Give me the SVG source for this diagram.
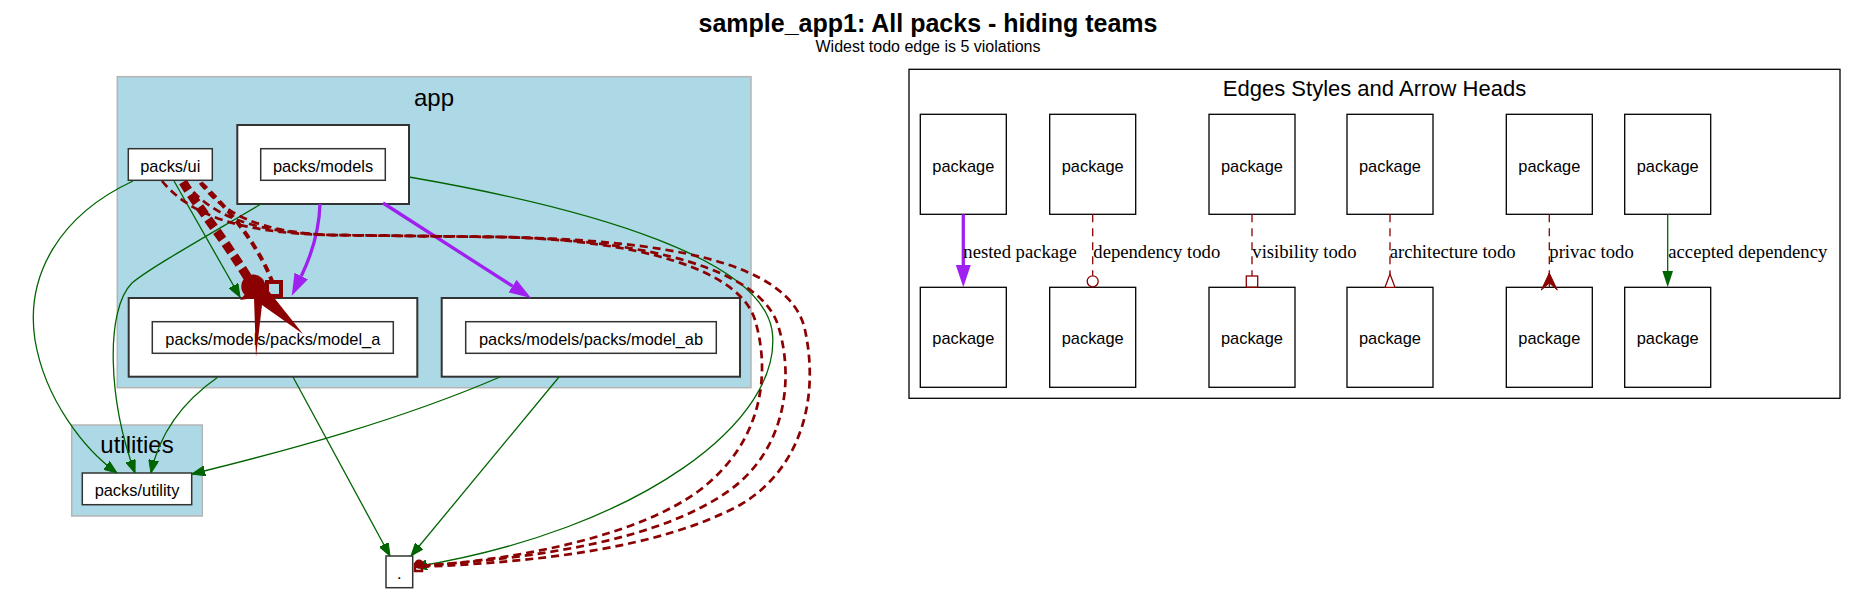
<svg xmlns="http://www.w3.org/2000/svg" width="1856" height="593" viewBox="0 0 1856 593">
<style>
text{font-family:"Liberation Sans",Arial,sans-serif;fill:#000}
.t{text-anchor:middle}
.nd{fill:#fff;stroke:#333;stroke-width:1.5}
.ob{fill:#fff;stroke:#333;stroke-width:2}
.cl{fill:#ADD8E6;stroke:#B5B5B5;stroke-width:1.5}
.lg{fill:#fff;stroke:#000;stroke-width:1.3}
.g{fill:none;stroke:#006400;stroke-width:1.3}
.p{fill:none;stroke:#A020F0;stroke-width:3.3}
.r{fill:none;stroke:#8B0000;stroke-width:2.7;stroke-dasharray:8,5}
.rl{fill:none;stroke:#8B0000;stroke-width:1.3;stroke-dasharray:8,6}
.lab{font-family:"Liberation Serif","Times New Roman",serif;font-size:18.67px}
.pk{font-size:16.4px}
</style>
<defs>
<marker id="ag" markerUnits="userSpaceOnUse" viewBox="0 0 13 10" markerWidth="13" markerHeight="10" refX="13" refY="5" orient="auto"><path d="M0,0 L13,5 L0,10 Z" fill="#006400" stroke="#006400" stroke-width="1"/></marker>
<marker id="ap" markerUnits="userSpaceOnUse" viewBox="0 0 22 15" markerWidth="22" markerHeight="15" refX="0" refY="7.5" orient="auto"><path d="M0,0 L22,7.5 L0,15 Z" fill="#A020F0"/></marker>
</defs>
<rect width="1856" height="593" fill="#fff"/>
<g id="title">
<text class="t" x="928" y="32" font-size="25" font-weight="bold">sample_app1: All packs - hiding teams</text>
<text class="t" x="928" y="52" font-size="16">Widest todo edge is 5 violations</text>
</g>
<g id="cluster_app">
<rect class="cl" x="117.3" y="76.7" width="633.7" height="311"/>
<text class="t" x="434" y="105.7" font-size="24">app</text>
</g>
<g id="cluster_utilities">
<rect class="cl" x="71.7" y="425" width="130.6" height="91"/>
<text class="t" x="137" y="453.3" font-size="24">utilities</text>
</g>
<g id="packs_ui">
<rect class="nd" x="128.3" y="148.7" width="84" height="31.6"/>
<text class="t" x="170.3" y="171.5" font-size="16.4">packs/ui</text>
</g>
<g id="packs_models">
<rect class="ob" x="237.3" y="125" width="171.7" height="79"/>
<rect class="nd" x="260.7" y="148.7" width="124.6" height="31.6"/>
<text class="t" x="323" y="171.5" font-size="16.4">packs/models</text>
</g>
<g id="model_a">
<rect class="ob" x="128.7" y="298" width="288.6" height="78.7"/>
<rect class="nd" x="152.3" y="321.7" width="241" height="31.6"/>
<text class="t" x="272.8" y="344.5" font-size="16.4">packs/models/packs/model_a</text>
</g>
<g id="model_ab">
<rect class="ob" x="441.7" y="298" width="298.3" height="78.7"/>
<rect class="nd" x="465.7" y="321.7" width="250.6" height="31.6"/>
<text class="t" x="591" y="344.5" font-size="16.4">packs/models/packs/model_ab</text>
</g>
<g id="packs_utility">
<rect class="nd" x="82.3" y="473" width="109.4" height="31.7"/>
<text class="t" x="137" y="495.8" font-size="16.4">packs/utility</text>
</g>
<g id="root">
<rect class="nd" x="386" y="556" width="26.7" height="31.7"/>
<text class="t" x="399.3" y="578.5" font-size="16.4">.</text>
</g>
<g id="edges">
<path class="g" d="M133,181 C60,215 25,275 35,340 C45,400 85,450 117,473" marker-end="url(#ag)"/>
<path class="g" d="M261,204 C200,240 150,268 132,283 C105,310 108,400 135,473" marker-end="url(#ag)"/>
<path class="g" d="M174,181 L240,297" marker-end="url(#ag)"/>
<path class="g" d="M218,377 C185,400 160,430 151,473" marker-end="url(#ag)"/>
<path class="g" d="M500,377 C400,420 290,450 192,474" marker-end="url(#ag)"/>
<path class="g" d="M293,377 L390,556" marker-end="url(#ag)"/>
<path class="g" d="M559,377 L411,556" marker-end="url(#ag)"/>
<path class="g" d="M409,177 C600,210 760,260 772,330 C785,420 640,530 414,567" marker-end="url(#ag)"/>
<path class="p" d="M320,204 C319,235 310,258 301.3,276" marker-end="url(#ap)"/>
<path class="p" d="M383,203 L512.5,286.1" marker-end="url(#ap)"/>
<path class="r" d="M162,181 C190,215 240,233 330,235 L500,237 C640,240 740,270 755,320 C770,370 765,440 700,490 C640,535 520,560 418,566"/>
<path class="r" d="M185,182 C210,215 250,232 330,235 L500,237 C650,240 760,270 778,325 C795,380 785,450 730,490 C660,540 540,558 418,566"/>
<path class="r" d="M200,183 C225,215 260,232 330,235 L500,237 C660,240 790,260 805,330 C820,400 800,470 740,505 C660,548 540,562 418,567"/>
<path fill="none" stroke="#8B0000" stroke-width="9" stroke-dasharray="10,5" d="M183,182 C200,210 225,240 248,278"/>
<path fill="none" stroke="#8B0000" stroke-width="4" stroke-dasharray="8,5" d="M201,183 C230,210 258,245 272,281"/>
<circle cx="253.3" cy="286.5" r="12" fill="#8B0000"/>
<rect x="267" y="282" width="14" height="14" fill="none" stroke="#8B0000" stroke-width="4"/>
<path d="M256,282 L240,300 L254,298 L256,357 L262,305 L303,334 L268,290 Z" fill="#8B0000"/>
<circle cx="419" cy="564" r="4.5" fill="#8B0000"/>
<rect x="415" y="564" width="7" height="7" fill="none" stroke="#8B0000" stroke-width="2.5"/>
</g>
<g id="legend">
<rect x="909" y="69.3" width="931" height="329" fill="#fff" stroke="#000" stroke-width="1.3"/>
<text class="t" x="1374.5" y="96" font-size="22">Edges Styles and Arrow Heads</text>
</g>
<g id="legend_nodes">
<g id="lt1"><rect class="lg" x="920.3" y="114.3" width="86" height="100"/><text class="t pk" x="963.3" y="172.3">package</text></g>
<g id="lt2"><rect class="lg" x="1049.7" y="114.3" width="86" height="100"/><text class="t pk" x="1092.7" y="172.3">package</text></g>
<g id="lt3"><rect class="lg" x="1209" y="114.3" width="86" height="100"/><text class="t pk" x="1252" y="172.3">package</text></g>
<g id="lt4"><rect class="lg" x="1347" y="114.3" width="86" height="100"/><text class="t pk" x="1390" y="172.3">package</text></g>
<g id="lt5"><rect class="lg" x="1506.3" y="114.3" width="86" height="100"/><text class="t pk" x="1549.3" y="172.3">package</text></g>
<g id="lt6"><rect class="lg" x="1624.7" y="114.3" width="86" height="100"/><text class="t pk" x="1667.7" y="172.3">package</text></g>
<g id="lb1"><rect class="lg" x="920.3" y="287.3" width="86" height="100"/><text class="t pk" x="963.3" y="343.5">package</text></g>
<g id="lb2"><rect class="lg" x="1049.7" y="287.3" width="86" height="100"/><text class="t pk" x="1092.7" y="343.5">package</text></g>
<g id="lb3"><rect class="lg" x="1209" y="287.3" width="86" height="100"/><text class="t pk" x="1252" y="343.5">package</text></g>
<g id="lb4"><rect class="lg" x="1347" y="287.3" width="86" height="100"/><text class="t pk" x="1390" y="343.5">package</text></g>
<g id="lb5"><rect class="lg" x="1506.3" y="287.3" width="86" height="100"/><text class="t pk" x="1549.3" y="343.5">package</text></g>
<g id="lb6"><rect class="lg" x="1624.7" y="287.3" width="86" height="100"/><text class="t pk" x="1667.7" y="343.5">package</text></g>
</g>
<g id="legend_edges">
<line class="p" x1="963.3" y1="214.3" x2="963.3" y2="266"/>
<polygon points="955.8,265 970.8,265 963.3,287.3" fill="#A020F0"/>
<text class="lab" x="963.3" y="257.5">nested package</text>
<line class="rl" x1="1092.7" y1="214.3" x2="1092.7" y2="275.5"/>
<circle cx="1092.7" cy="281.3" r="5.5" fill="none" stroke="#8B0000" stroke-width="1.3"/>
<text class="lab" x="1093.3" y="257.5">dependency todo</text>
<line class="rl" x1="1252" y1="214.3" x2="1252" y2="276"/>
<rect x="1246.3" y="276" width="11.4" height="11.3" fill="none" stroke="#8B0000" stroke-width="1.3"/>
<text class="lab" x="1252.3" y="257.5">visibility todo</text>
<line class="rl" x1="1390" y1="214.3" x2="1390" y2="274"/>
<polygon points="1390,274 1385,287.3 1395,287.3" fill="#fff" stroke="#8B0000" stroke-width="1.3"/>
<text class="lab" x="1389.7" y="257.5">architecture todo</text>
<line class="rl" x1="1549.3" y1="214.3" x2="1549.3" y2="274"/>
<polygon points="1549.3,273 1541.3,290 1549.3,283 1557.3,290" fill="#8B0000" stroke="#8B0000" stroke-width="1"/>
<line x1="1549.3" y1="273" x2="1549.3" y2="287.3" stroke="#8B0000" stroke-width="1.3"/>
<text class="lab" x="1549.3" y="257.5">privac todo</text>
<line class="g" x1="1667.7" y1="214.3" x2="1667.7" y2="272"/>
<polygon points="1662.4,271 1673,271 1667.7,287.3" fill="#006400"/>
<text class="lab" x="1668.3" y="257.5">accepted dependency</text>
</g>
</svg>
